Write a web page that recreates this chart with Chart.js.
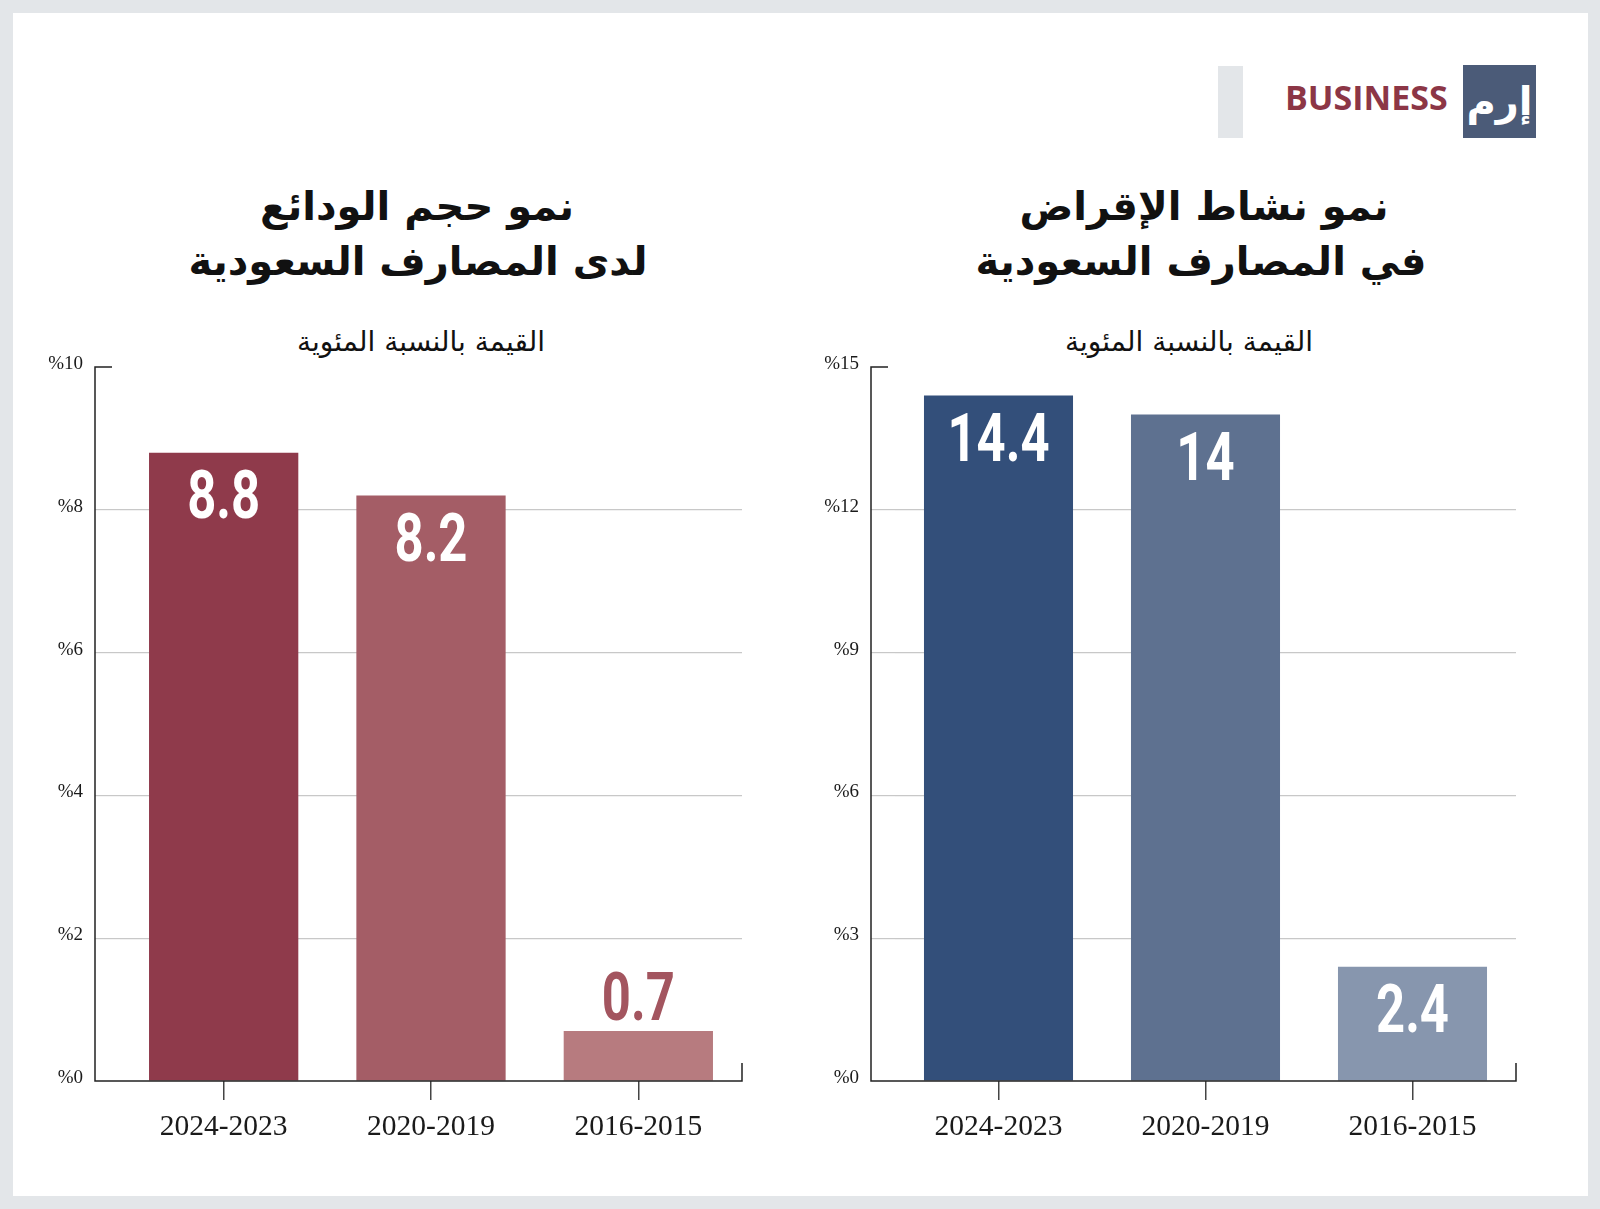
<!DOCTYPE html>
<html>
<head>
<meta charset="utf-8">
<script src="https://cdn.jsdelivr.net/npm/chart.js@4.4.0/dist/chart.umd.min.js"></script>
<style>
  html, body { margin: 0; padding: 0; background: #e3e6e9; }
  #page { position: relative; width: 1600px; height: 1209px; background: #e3e6e9; overflow: hidden; }
  #panel { position: absolute; left: 13px; top: 13px; width: 1575px; height: 1183px; background: #fff; }
  canvas { position: absolute; top: 0; }
  .t { position: absolute; transform: translateX(-50%); white-space: nowrap; direction: rtl; font-family: "DejaVu Sans"; color: #111; }
  .title { font-size: 40px; line-height: 40px; font-weight: bold; }
  .sub { font-size: 28px; line-height: 28px; }
  #bar { position: absolute; left: 1218px; top: 66px; width: 25px; height: 72px; background: #e3e6e9; }
  #biz { position: absolute; left: 1285px; top: 80px; font: bold 34px/34px "Open Sans"; color: #8c3646; }
  #logo { position: absolute; left: 1463px; top: 65px; width: 73px; height: 73px; background: #4b5b78; color: #fff;
          font: bold 40px/73px "DejaVu Sans"; text-align: center; direction: rtl; }
</style>
</head>
<body>
<div id="page">
  <div id="panel"></div>
  <div id="bar"></div>
  <div id="biz">BUSINESS</div>
  <div id="logo">إرم</div>

  <div class="t title" style="left:417px; top:186px;">نمو حجم الودائع</div>
  <div class="t title" style="left:418px; top:241px;">لدى المصارف السعودية</div>
  <div class="t sub" style="left:421px; top:328px;">القيمة بالنسبة المئوية</div>

  <div class="t title" style="left:1204px; top:186px;">نمو نشاط الإقراض</div>
  <div class="t title" style="left:1201px; top:241px;">في المصارف السعودية</div>
  <div class="t sub" style="left:1189px; top:328px;">القيمة بالنسبة المئوية</div>

  <canvas id="depositChart" width="800" height="1209" style="left:0px"></canvas>
  <canvas id="lendingChart" width="800" height="1209" style="left:800px"></canvas>
</div>

<script>
// data
const categories = ["2024-2023", "2020-2019", "2016-2015"];
const depositGrowth = [8.8, 8.2, 0.7];
const lendingGrowth = [14.4, 14, 2.4];
const depositTicks = [0, 2, 4, 6, 8, 10];
const lendingTicks = [0, 3, 6, 9, 12, 15];

// axis lines drawn a bit left of the plot, like the original
const frame = {
  id: 'frame',
  afterDatasetsDraw(chart, args, opts) {
    const { ctx, chartArea } = chart;
    const y = chart.scales.y;
    const ax = chartArea.left - opts.gap;
    const top = y.getPixelForValue(y.max);
    const bottom = y.getPixelForValue(0);
    ctx.save();
    ctx.strokeStyle = '#222';
    ctx.lineWidth = 1.5;
    ctx.beginPath();
    ctx.moveTo(ax + 17, top);
    ctx.lineTo(ax, top);
    ctx.lineTo(ax, bottom);
    ctx.lineTo(chartArea.right, bottom);
    ctx.lineTo(chartArea.right, bottom - 18);
    ctx.stroke();
    ctx.restore();
  }
};

// value labels: inside the bar when it fits, above it otherwise
const barLabels = {
  id: 'barLabels',
  afterDatasetsDraw(chart, args, opts) {
    const ctx = chart.ctx;
    const values = chart.data.datasets[0].data;
    chart.getDatasetMeta(0).data.forEach((bar, i) => {
      const h = bar.base - bar.y;
      let base = bar.y + 18 + 47;
      let color = '#fff';
      if (h < 100) {
        base = bar.y - 11;
        color = opts.outsideColor;
      }
      ctx.save();
      ctx.font = 'bold 66px Roboto';
      ctx.textAlign = 'center';
      ctx.textBaseline = 'alphabetic';
      ctx.fillStyle = color;
      ctx.translate(bar.x, base);
      ctx.scale(0.77, 1);
      ctx.fillText(String(values[i]), 0, 0);
      ctx.restore();
    });
  }
};

function makeChart(id, values, colors, ticks, cfg) {
  const max = ticks[ticks.length - 1];
  return new Chart(document.getElementById(id), {
    type: 'bar',
    data: {
      labels: categories,
      datasets: [{ data: values, backgroundColor: colors, barPercentage: 0.72, categoryPercentage: 1 }]
    },
    options: {
      responsive: false,
      animation: false,
      layout: { padding: { top: 367, right: cfg.right, bottom: 48, left: 0 } },
      plugins: {
        legend: { display: false },
        tooltip: { enabled: false },
        frame: { gap: cfg.gap },
        barLabels: { outsideColor: cfg.outsideColor }
      },
      scales: {
        x: {
          grid: { offset: false, drawOnChartArea: false, drawTicks: true, tickLength: 19, tickColor: '#444', lineWidth: 1.5 },
          border: { display: false },
          ticks: { color: '#1a1a1a', font: { family: 'Liberation Serif', size: 29.5 }, padding: 10 },
          afterFit(s) { s.height = 80; }
        },
        y: {
          min: 0,
          max: max,
          afterBuildTicks(s) { s.ticks = ticks.map(v => ({ value: v })); },
          grid: {
            color: c => (c.tick && (c.tick.value === 0 || c.tick.value === max)) ? 'rgba(0,0,0,0)' : '#c8c8c8',
            lineWidth: 1.2,
            drawTicks: true,
            tickLength: cfg.gap
          },
          border: { display: false },
          ticks: {
            callback: v => '%' + v,
            color: '#1a1a1a',
            font: { family: 'Liberation Serif', size: 19 },
            padding: 12,
            labelOffset: -3
          },
          afterFit(s) { s.width = cfg.yWidth; }
        }
      }
    },
    plugins: [frame, barLabels]
  });
}

makeChart('depositChart', depositGrowth, ['#8f3a4b', '#a45d66', '#b77b7f'], depositTicks,
  { yWidth: 120, right: 58, gap: 25, outsideColor: '#a3555f' });
makeChart('lendingChart', lendingGrowth, ['#334f7a', '#5e7190', '#8796ae'], lendingTicks,
  { yWidth: 95, right: 84, gap: 24, outsideColor: '#5e7190' });
</script>
</body>
</html>
